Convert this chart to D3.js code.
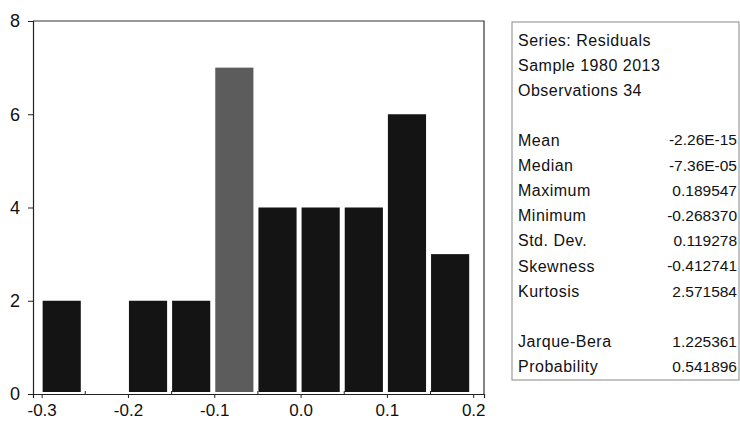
<!DOCTYPE html>
<html>
<head>
<meta charset="utf-8">
<script src="https://cdn.jsdelivr.net/npm/d3@7"></script>
<style>
body{margin:0;background:#fff}
svg{display:block}
text{font-family:"Liberation Sans",Arial,sans-serif}
.narrow{font-family:"Liberation Sans Narrow","Arial Narrow","Liberation Sans",sans-serif}
</style>
</head>
<body>
<script>
// histogram of residuals, bin width 0.05
const binStarts=[-0.30,-0.25,-0.20,-0.15,-0.10,-0.05,0.00,0.05,0.10,0.15]
const counts=[2,0,2,2,7,4,4,4,6,3]
const binWidth=0.05
const highlightBin=-0.10
const yTicks=[0,2,4,6,8]
const xTicks=[-0.3,-0.2,-0.1,0.0,0.1,0.2]
const xMinor=[-0.25,-0.15,-0.05,0.05,0.15]

const headLines=["Series: Residuals","Sample 1980 2013","Observations 34"]
const statNames=["Mean","Median","Maximum","Minimum","Std. Dev.","Skewness","Kurtosis","","Jarque-Bera","Probability"]
const statValues=["-2.26E-15","-7.36E-05","0.189547","-0.268370","0.119278","-0.412741","2.571584","","1.225361","0.541896"]

const W=740,H=430
const svg=d3.select("body").append("svg").attr("width",W).attr("height",H)

const x=d3.scaleLinear().domain([-0.31,0.2125]).range([33,484])
const y=d3.scaleLinear().domain([0,8]).range([394,21])

// frame
svg.append("path")
	.attr("d","M"+x.range()[0]+","+y(8)+"H"+x.range()[1]+"V"+y(0))
	.attr("fill","none").attr("stroke","#333").attr("stroke-width",1.2)

// bars
svg.selectAll("rect.bar").data(binStarts).enter().append("rect")
	.attr("class","bar")
	.attr("x",(d)=>x(d)+1)
	.attr("width",(d)=>x(d+binWidth)-x(d)-5)
	.attr("y",(d,i)=>y(counts[i]))
	.attr("height",(d,i)=>Math.max(0,y(0)-2-y(counts[i])))
	.attr("fill",(d)=>(Math.abs(d-highlightBin)<1e-9?"#5c5c5c":"#141414"))

// y axis
const gy=svg.append("g").attr("transform","translate("+x.range()[0]+",0)")
	.call(d3.axisLeft(y).tickValues(yTicks).tickSize(5).tickPadding(8).tickFormat(d3.format("d")))
gy.select(".domain").attr("stroke","#222").attr("stroke-width",1.2)
gy.selectAll("text").attr("class","narrow").attr("font-size",18).attr("fill","#111")
gy.selectAll(".tick line").attr("stroke","#222")

// x axis
const gx=svg.append("g").attr("transform","translate(0,"+y(0)+")")
	.call(d3.axisBottom(x).tickValues(xTicks).tickSize(4).tickPadding(6).tickFormat(d3.format(".1f")))
gx.select(".domain").attr("stroke","#222").attr("stroke-width",1.2)
gx.selectAll("text").attr("class","narrow").attr("font-size",17).attr("fill","#111")
	.text((d)=>d3.format(".1f")(d).replace("−","-"))
gx.selectAll(".tick line").attr("stroke","#222")

const gm=svg.append("g").attr("transform","translate(0,"+y(0)+")")
	.call(d3.axisBottom(x).tickValues(xMinor).tickSize(-3).tickFormat(""))
gm.select(".domain").remove()
gm.selectAll(".tick line").attr("stroke","#222")

// stats box
const box={x:512,y:22,w:227,h:358}
svg.append("rect")
	.attr("x",box.x).attr("y",box.y).attr("width",box.w).attr("height",box.h)
	.attr("fill","#fff").attr("stroke","#888").attr("stroke-width",1)

const rowH=25.2
svg.selectAll("text.head").data(headLines).enter().append("text")
	.attr("class","head")
	.attr("x",box.x+6)
	.attr("y",(d,i)=>40+i*rowH)
	.attr("dy","0.35em")
	.attr("font-size",16).attr("letter-spacing",0.5).attr("fill","#111")
	.text((d)=>d)

svg.selectAll("text.sname").data(statNames).enter().append("text")
	.attr("class","sname")
	.attr("x",box.x+6)
	.attr("y",(d,i)=>140+i*rowH)
	.attr("dy","0.35em")
	.attr("font-size",16).attr("letter-spacing",0.5).attr("fill","#111")
	.text((d)=>d)

svg.selectAll("text.sval").data(statValues).enter().append("text")
	.attr("class","sval narrow")
	.attr("x",box.x+box.w-2)
	.attr("y",(d,i)=>140+i*rowH)
	.attr("dy","0.35em")
	.attr("text-anchor","end")
	.attr("font-size",15.5).attr("fill","#111")
	.text((d)=>d)
</script>
</body>
</html>
